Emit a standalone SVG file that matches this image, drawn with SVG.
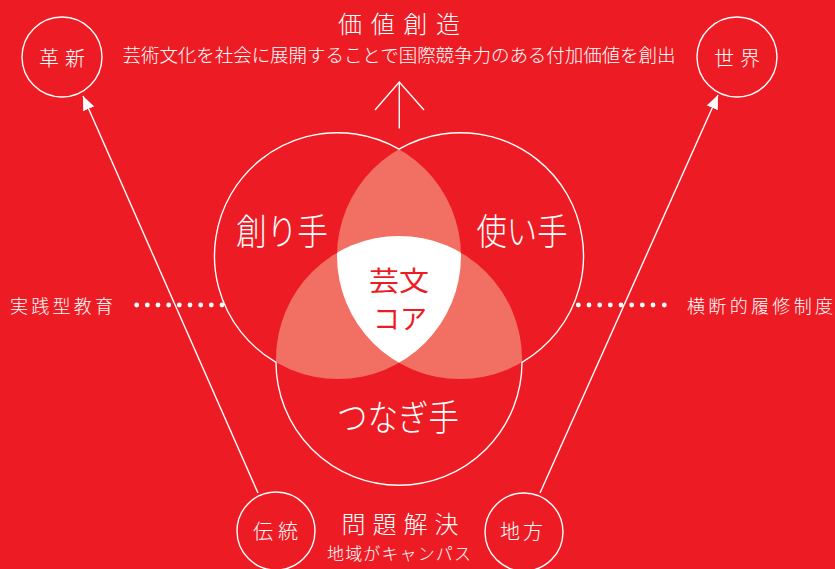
<svg xmlns="http://www.w3.org/2000/svg" width="835" height="569" viewBox="0 0 835 569">
<style>
.t{font-family:"Noto Sans CJK JP","Noto Sans",sans-serif;font-weight:300;fill:#fff;text-anchor:middle}
.core{font-family:"Noto Sans CJK JP","Noto Sans",sans-serif;font-weight:400;fill:#ED1C24;text-anchor:middle}
.ring{fill:none;stroke:#fff;stroke-width:1.4}
.ln{fill:none;stroke:#fff;stroke-width:1.4}
.dot{fill:#fff}
.lens{fill:#F26F63}
</style>
<defs>
<clipPath id="c1"><circle cx="338" cy="256" r="123"/></clipPath>
<clipPath id="c2"><circle cx="460" cy="256" r="123"/></clipPath>
<marker id="ah" viewBox="0 0 14 12" refX="14" refY="6" markerWidth="14" markerHeight="12" markerUnits="userSpaceOnUse" orient="auto">
<path d="M0,0 L14,6 L0,12 z" fill="#fff"/>
</marker>
</defs>
<rect width="835" height="569" fill="#ED1C24"/>

<g id="title">
<text class="t" x="399" y="33" font-size="24" textLength="122">価値創造</text>
<text class="t" x="399" y="62" font-size="18.5" textLength="553">芸術文化を社会に展開することで国際競争力のある付加価値を創出</text>
</g>

<g id="venn">
<circle class="lens" cx="460" cy="256" r="123" clip-path="url(#c1)"/>
<circle class="lens" cx="399" cy="359" r="123" clip-path="url(#c1)"/>
<circle class="lens" cx="399" cy="359" r="123" clip-path="url(#c2)"/>
<g clip-path="url(#c2)"><circle cx="399" cy="359" r="123" fill="#fff" clip-path="url(#c1)"/></g>
<path class="ring" d="M399,149.2 A123,123 0 0 0 276,362.3 A123,123 0 0 0 522,362.3 A123,123 0 0 0 399,149.2 Z"/>
</g>

<g id="node-tsukurite"><text class="t" x="282" y="245" font-size="36" textLength="92" lengthAdjust="spacingAndGlyphs">創り手</text></g>
<g id="node-tsukaite"><text class="t" x="522" y="245" font-size="36" textLength="91" lengthAdjust="spacingAndGlyphs">使い手</text></g>
<g id="node-tsunagite"><text class="t" x="398" y="431" font-size="36" textLength="122" lengthAdjust="spacingAndGlyphs">つなぎ手</text></g>
<g id="node-core">
<text class="core" x="399" y="291" font-size="27" textLength="60" lengthAdjust="spacingAndGlyphs">芸文</text>
<text class="core" x="400" y="329" font-size="27" textLength="54" lengthAdjust="spacingAndGlyphs">コア</text>
</g>

<g id="node-kakushin">
<circle class="ring" cx="62" cy="57" r="40"/>
<text class="t" x="62" y="66" font-size="20" textLength="46">革新</text>
</g>
<g id="node-sekai">
<circle class="ring" cx="737" cy="57" r="40"/>
<text class="t" x="737" y="66" font-size="20" textLength="46">世界</text>
</g>
<g id="node-dento">
<circle class="ring" cx="276" cy="531" r="39"/>
<text class="t" x="275.5" y="539" font-size="20" textLength="45">伝統</text>
</g>
<g id="node-chiho">
<circle class="ring" cx="524" cy="532" r="39"/>
<text class="t" x="521.5" y="539" font-size="20" textLength="43">地方</text>
</g>
<g id="node-mondai">
<text class="t" x="400" y="533" font-size="24" textLength="117">問題解決</text>
<text class="t" x="399" y="560" font-size="17" textLength="144">地域がキャンパス</text>
</g>
<g id="node-jissen"><text class="t" x="61.5" y="313" font-size="18" textLength="103">実践型教育</text></g>
<g id="node-oudan"><text class="t" x="760" y="313" font-size="18" textLength="146">横断的履修制度</text></g>

<g id="connectors">
<line class="ln" x1="258" y1="493" x2="83" y2="96" marker-end="url(#ah)"/>
<line class="ln" x1="540" y1="493" x2="718" y2="95" marker-end="url(#ah)"/>
<path class="ln" d="M399.3,128.5 V82 M375,110 L399.3,82 L424,110"/>
<g class="dot">
<circle cx="136.7" cy="305" r="2.4"/><circle cx="147.3" cy="305" r="2.4"/><circle cx="158" cy="305" r="2.4"/><circle cx="168.7" cy="305" r="2.4"/><circle cx="179.3" cy="305" r="2.4"/><circle cx="190" cy="305" r="2.4"/><circle cx="200.7" cy="305" r="2.4"/><circle cx="211.3" cy="305" r="2.4"/><circle cx="222" cy="305" r="2.4"/>
<circle cx="578.3" cy="305" r="2.4"/><circle cx="589" cy="305" r="2.4"/><circle cx="599.7" cy="305" r="2.4"/><circle cx="610.3" cy="305" r="2.4"/><circle cx="621" cy="305" r="2.4"/><circle cx="631.7" cy="305" r="2.4"/><circle cx="642.3" cy="305" r="2.4"/><circle cx="653" cy="305" r="2.4"/><circle cx="664.3" cy="305" r="2.4"/>
</g>
</g>
</svg>
